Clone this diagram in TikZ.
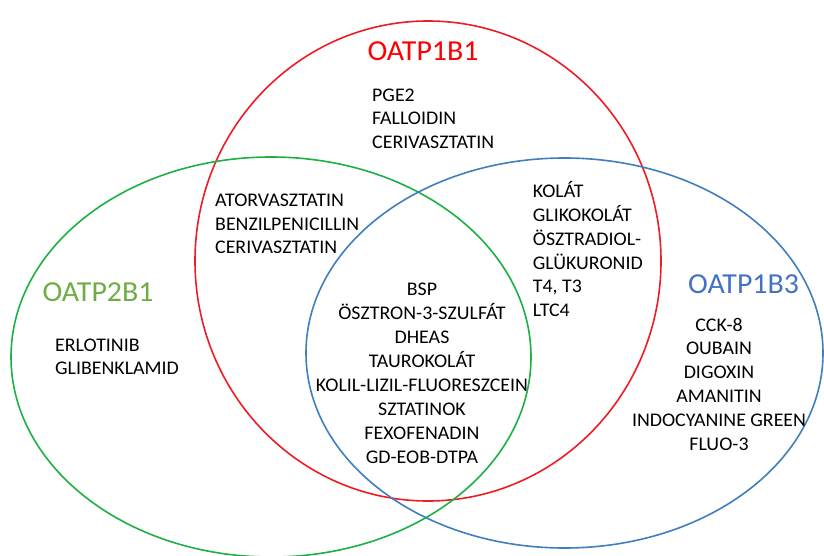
\documentclass[tikz,border=0pt]{standalone}
\usepackage{fontspec}
\setmainfont{Carlito}[FakeStretch=1.03]
\definecolor{redc}{HTML}{EE1C25}
\definecolor{greenc}{HTML}{1DB044}
\definecolor{bluec}{HTML}{3F7FBF}
\definecolor{lblgreen}{HTML}{70AD47}
\definecolor{lblblue}{HTML}{4472C4}
\definecolor{lblred}{HTML}{FF0000}
\begin{document}
\begin{tikzpicture}[x=1pt,y=-1pt,
  ring/.style={line width=1.6pt},
  item/.style={inner sep=0pt, font=\fontsize{19.3}{22}\selectfont},
  setlabel/.style={inner sep=0pt, anchor=base, font=\fontsize{29}{32}\selectfont}]
\useasboundingbox (0,0) rectangle (824,556);
\fill[white] (0,0) rectangle (824,556);
\draw[ring, redc] (428,261) ellipse [x radius=233pt, y radius=240pt];
\draw[ring, greenc] (271,357) ellipse [x radius=260pt, y radius=200pt];
\draw[ring, bluec] (564.5,353) ellipse [x radius=258.5pt, y radius=195pt];

\node[setlabel, text=lblred] (l1) at (423,60.7) {OATP1B1};
\node[setlabel, text=lblgreen] (l2) at (98,301.7) {OATP2B1};
\node[setlabel, text=lblblue] (l3) at (743.5,293.3) {OATP1B3};

\foreach \t [count=\i from 0] in {PGE2,FALLOIDIN,CERIVASZTATIN}
  \node[item, anchor=base west] (a\i) at (372,{101.5+23.4*\i}) {\t};
\foreach \t [count=\i from 0] in {ATORVASZTATIN,BENZILPENICILLIN,CERIVASZTATIN}
  \node[item, anchor=base west] (b\i) at (215,{206.7+23.6*\i}) {\t};
\foreach \t [count=\i from 0] in {KOLÁT,GLIKOKOLÁT,ÖSZTRADIOL-,GLÜKURONID,{T4, T3},LTC4}
  \node[item, anchor=base west] (c\i) at (532.7,{197.3+23.9*\i}) {\t};
\foreach \t [count=\i from 0] in {ERLOTINIB,GLIBENKLAMID}
  \node[item, anchor=base west] (d\i) at (55,{351+23.3*\i}) {\t};
\foreach \t [count=\i from 0] in {BSP,ÖSZTRON-3-SZULFÁT,DHEAS,TAUROKOLÁT,KOLIL-LIZIL-FLUORESZCEIN,SZTATINOK,FEXOFENADIN,GD-EOB-DTPA}
  \node[item, anchor=base] (e\i) at (422,{295+24.04*\i}) {\t};
\foreach \t [count=\i from 0] in {CCK-8,OUBAIN,DIGOXIN,AMANITIN,INDOCYANINE GREEN,FLUO-3}
  \node[item, anchor=base] (f\i) at (719,{331+23.95*\i}) {\t};
\end{tikzpicture}
\end{document}
